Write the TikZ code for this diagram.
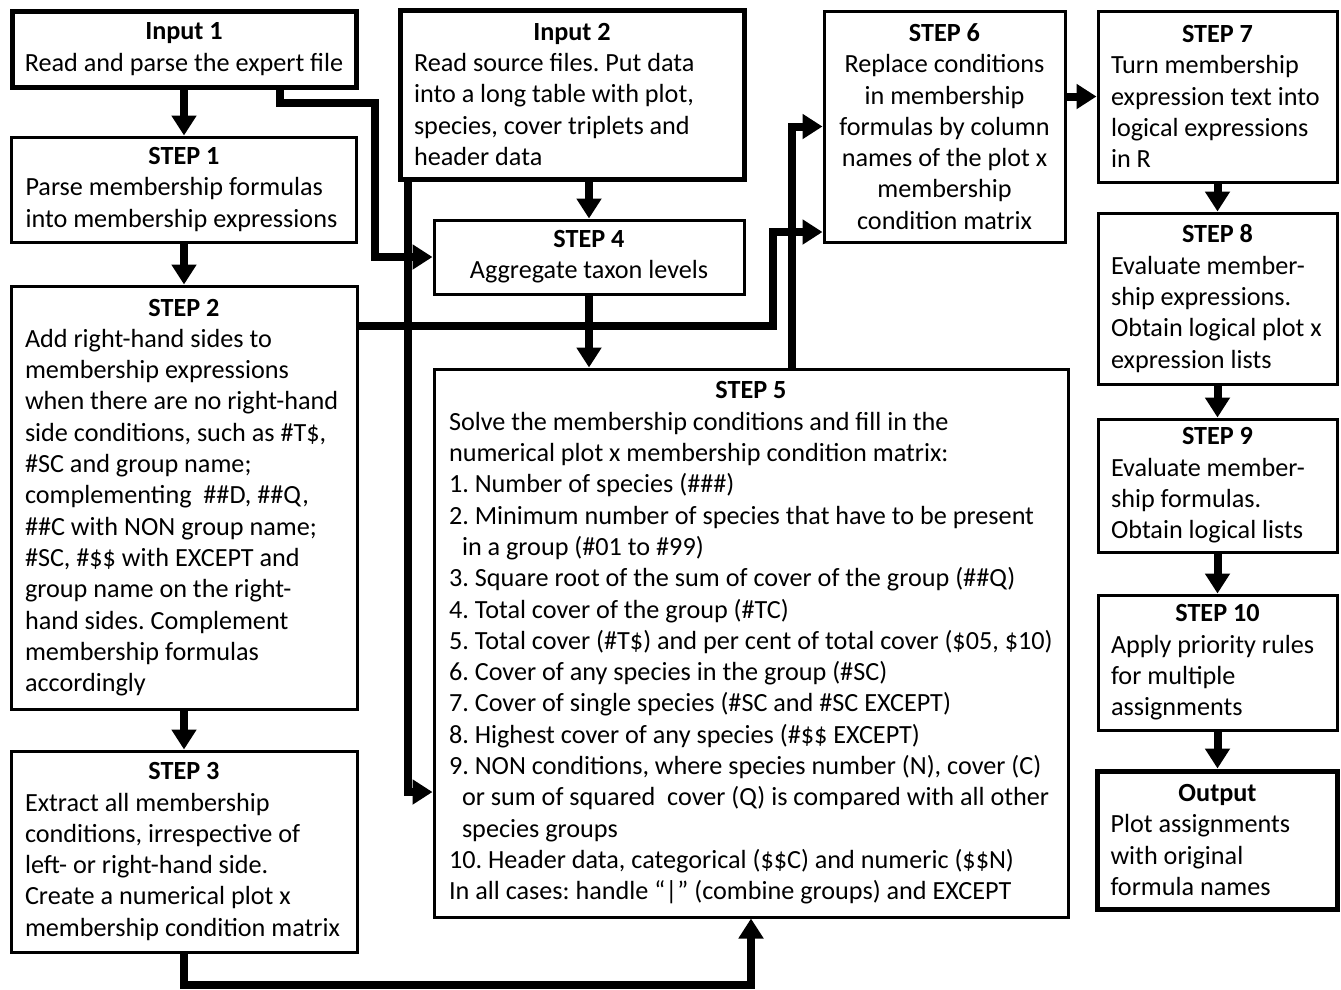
\documentclass[tikz,border=0pt]{standalone}
\usepackage{fontspec}
\setmainfont{Carlito}
\usetikzlibrary{arrows.meta}
\frenchspacing
\newcommand\fs{\fontsize{26.2pt}{31.3pt}\selectfont\frenchspacing}
\newcommand\ttl[1]{\makebox[\linewidth]{\textbf{#1}}}
\newcommand\lft{\rightskip=-40pt plus 1fil\spaceskip=0pt\xspaceskip=0pt\relax}
\begin{document}
\begin{tikzpicture}[x=1pt,y=-1pt,
  base/.style={draw, inner sep=0pt, font=\fs, align=left},
  box/.style={base, line width=3pt},
  iobox/.style={base, line width=5pt},
  conn/.style={line width=8pt, -{Triangle[length=20pt,width=24pt]}}]
\useasboundingbox[fill=white] (0,0) rectangle (1341,989);

% left column
\node[iobox, minimum width=344pt, minimum height=76pt, align=center] (in1) at (184,49)
  {\textbf{Input 1}\\Read and parse the expert file};
\node[box, minimum width=345pt, minimum height=105pt, text width=317pt] (s1) at (184,189.5)
  {\lft\ttl{STEP 1}\\Parse membership formulas\\into membership expressions};
\node[box, minimum width=346pt, minimum height=423pt, text width=318pt] (s2) at (184,497.5)
  {\lft\ttl{STEP 2}\\Add right-hand sides to\\membership expressions\\when there are no right-hand\\side conditions, such as \#T\$,\\\#SC and group name;\\complementing \ \#\#D, \#\#Q,\\\#\#C with NON group name;\\\#SC, \#\$\$ with EXCEPT and\\group name on the right-\\hand sides. Complement\\membership formulas\\accordingly};
\node[box, minimum width=346pt, minimum height=201pt, text width=318pt] (s3) at (184,851.5)
  {\lft\ttl{STEP 3}\\Extract all membership\\conditions, irrespective of\\left- or right-hand side.\\Create a numerical plot x\\membership condition matrix};

% middle column
\node[iobox, minimum width=344pt, minimum height=169pt, text width=316pt] (in2) at (572,94.5)
  {\lft\ttl{Input 2}\\Read source files. Put data\\into a long table with plot,\\species, cover triplets and\\header data};
\node[box, minimum width=310pt, minimum height=74pt, align=center] (s4) at (589,257)
  {\textbf{STEP 4}\\Aggregate taxon levels};
\node[box, minimum width=634pt, minimum height=548pt, text width=604pt] (s5) at (751,643)
  {\lft\ttl{STEP 5}\\Solve the membership conditions and fill in the\\numerical plot x membership condition matrix:\\1. Number of species (\#\#\#)\\2. Minimum number of species that have to be present\\\hspace*{13pt}in a group (\#01 to \#99)\\3. Square root of the sum of cover of the group (\#\#Q)\\4. Total cover of the group (\#TC)\\5. Total cover (\#T\$) and per cent of total cover (\$05, \$10)\\6. Cover of any species in the group (\#SC)\\7. Cover of single species (\#SC and \#SC EXCEPT)\\8. Highest cover of any species (\#\$\$ EXCEPT)\\9. NON conditions, where species number (N), cover (C)\\\hspace*{13pt}or sum of squared \ cover (Q) is compared with all other\\\hspace*{13pt}species groups\\10. Header data, categorical (\$\$C) and numeric (\$\$N)\\In all cases: handle “|” (combine groups) and EXCEPT};
\node[box, minimum width=241pt, minimum height=231pt, align=center] (s6) at (944.5,126.5)
  {\textbf{STEP 6}\\Replace conditions\\in membership\\formulas by column\\names of the plot x\\membership\\condition matrix};

% right column
\node[box, minimum width=239pt, minimum height=171pt, text width=213pt] (s7) at (1217.5,96.5)
  {\lft\ttl{STEP 7}\\Turn membership\\expression text into\\logical expressions\\in R};
\node[box, minimum width=239pt, minimum height=171pt, text width=213pt] (s8) at (1217.5,298.5)
  {\lft\ttl{STEP 8}\\Evaluate member-\\ship expressions.\\Obtain logical plot x\\expression lists};
\node[box, minimum width=239pt, minimum height=133pt, text width=213pt] (s9) at (1217.5,485.5)
  {\lft\ttl{STEP 9}\\Evaluate member-\\ship formulas.\\Obtain logical lists};
\node[box, minimum width=239pt, minimum height=135pt, text width=213pt] (s10) at (1217.5,662.5)
  {\lft\ttl{STEP 10}\\Apply priority rules\\for multiple\\assignments};
\node[iobox, minimum width=240pt, minimum height=138pt, text width=214pt] (out) at (1217.5,840)
  {\lft\ttl{Output}\\Plot assignments\\with original\\formula names};

% helper coordinates
\coordinate (a1) at (280,103);
\coordinate (a2) at (375,103);
\coordinate (b1) at (408,792);
\coordinate (c1) at (773,326);
\coordinate (c2) at (773,232);
\coordinate (d1) at (792,0);
\coordinate (e1) at (0,985);

% connectors
\draw[conn] (in1.south) -- (s1.north);
\draw[conn] (s1.south) -- (s2.north);
\draw[conn] (s2.south) -- (s3.north);
\draw[conn] (in1.south -| a1) |- (a2) |- (s4.west);
\draw[conn] (in2.south -| b1) -- (b1) -- (b1 -| s5.west);
\draw[conn] (in2.south -| s4.north) -- (s4.north);
\draw[conn] (s4.south) -- (s4.south |- s5.north);
\draw[conn] (s3.south) -- (s3.south |- e1) -| (s5.south);
\draw[conn] (s2.east |- c1) -- (c1) -- (c2) -- (c2 -| s6.west);
\draw[conn] (s5.north -| d1) |- (s6.west);
\draw[conn] (s6.east |- s7.west) -- (s7.west);
\draw[conn] (s7.south) -- (s8.north);
\draw[conn] (s8.south) -- (s9.north);
\draw[conn] (s9.south) -- (s10.north);
\draw[conn] (s10.south) -- (out.north);
\end{tikzpicture}
\end{document}
